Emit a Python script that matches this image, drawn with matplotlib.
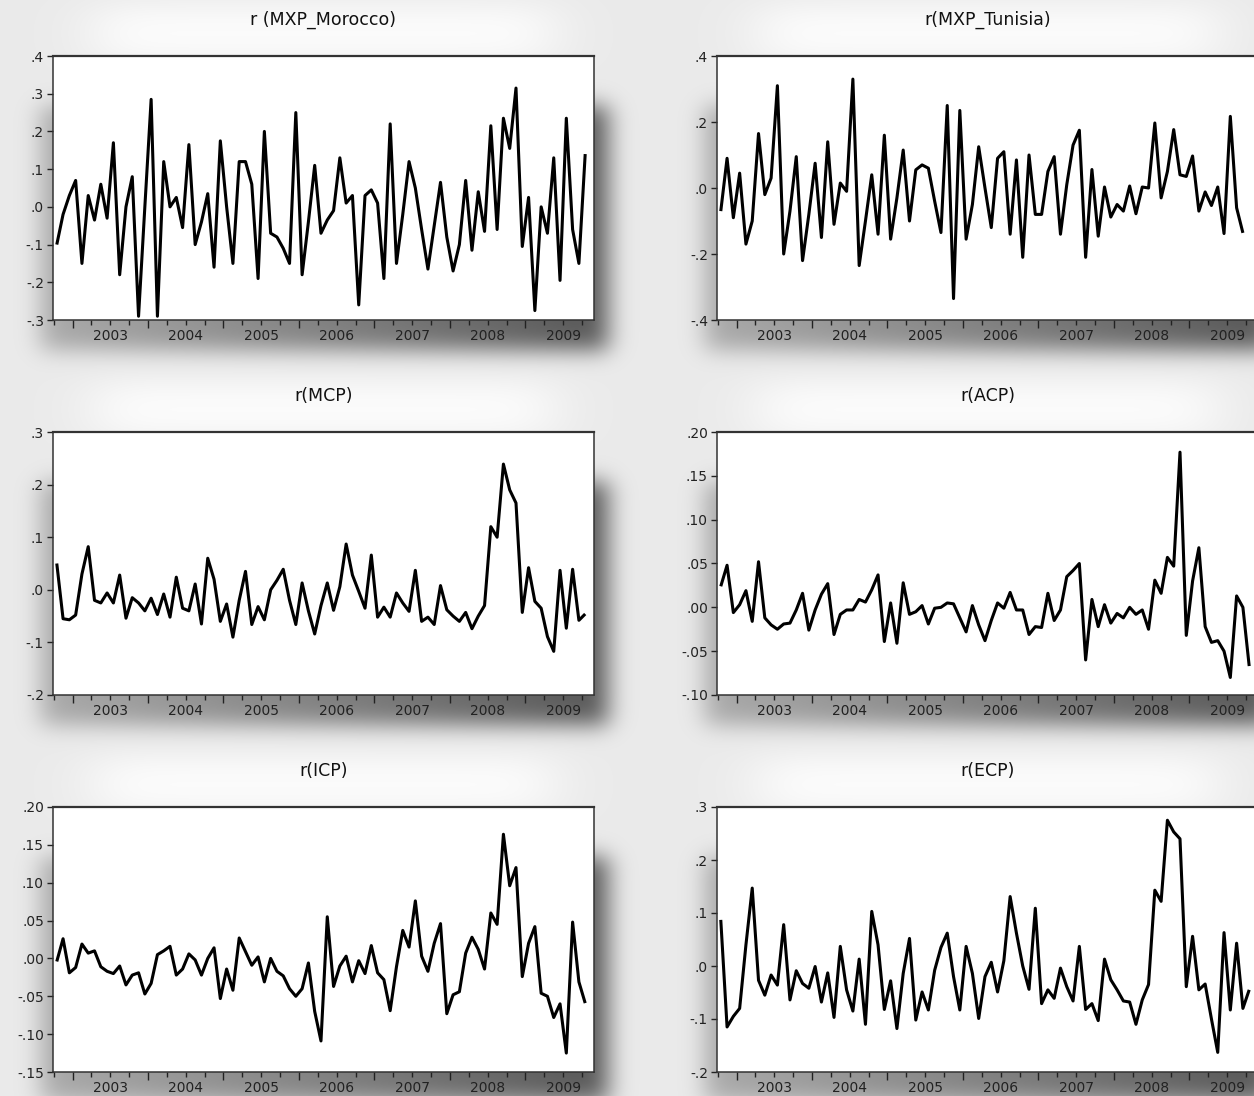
import math
import numpy as np
import matplotlib
matplotlib.use("Agg")
import matplotlib.pyplot as plt
from matplotlib.ticker import FixedLocator, FuncFormatter, NullFormatter

# ---------------- data (monthly, first obs 2002M10) ----------------
first_month = -3          # months relative to 2003M01
years = [2003, 2004, 2005, 2006, 2007, 2008, 2009]

mxp_morocco = [-0.10, -0.02, 0.03, 0.07, -0.15, 0.03, -0.035, 0.06, -0.03, 0.17,
               -0.18, 0.00, 0.08, -0.29, 0.00, 0.285, -0.29, 0.12, 0.00, 0.025,
               -0.055, 0.165, -0.10, -0.04, 0.035, -0.16, 0.175, 0.00, -0.15, 0.12,
               0.12, 0.06, -0.19, 0.20, -0.07, -0.08, -0.11, -0.15, 0.25, -0.18,
               -0.04, 0.11, -0.07, -0.035, -0.01, 0.13, 0.01, 0.03, -0.26, 0.03,
               0.045, 0.01, -0.19, 0.22, -0.15, -0.02, 0.12, 0.05, -0.06, -0.165,
               -0.05, 0.065, -0.08, -0.17, -0.10, 0.07, -0.115, 0.04, -0.065, 0.215,
               -0.06, 0.235, 0.155, 0.315, -0.105, 0.025, -0.275, 0.00, -0.07, 0.13,
               -0.195, 0.235, -0.06, -0.15, 0.14]

mxp_tunisia = [-0.07, 0.09, -0.09, 0.045, -0.17, -0.10, 0.165, -0.02, 0.03, 0.31,
               -0.20, -0.07, 0.095, -0.22, -0.08, 0.075, -0.15, 0.14, -0.11, 0.015,
               -0.01, 0.33, -0.235, -0.10, 0.04, -0.14, 0.16, -0.155, -0.03, 0.115,
               -0.10, 0.055, 0.07, 0.06, -0.04, -0.135, 0.25, -0.335, 0.235, -0.155,
               -0.05, 0.125, 0.00, -0.12, 0.09, 0.11, -0.14, 0.085, -0.21, 0.10,
               -0.08, -0.08, 0.05, 0.095, -0.14, 0.01, 0.13, 0.175, -0.21, 0.056,
               -0.146, 0.003, -0.088, -0.05, -0.07, 0.006, -0.078, 0.003, 0.00, 0.197,
               -0.03, 0.05, 0.177, 0.04, 0.035, 0.097, -0.07, -0.012, -0.053, 0.003,
               -0.138, 0.217, -0.06, -0.136]

mcp = [0.05, -0.055, -0.057, -0.048, 0.03, 0.082, -0.02, -0.025, -0.006, -0.025,
       0.028, -0.054, -0.015, -0.025, -0.04, -0.016, -0.047, -0.008, -0.052, 0.024,
       -0.035, -0.04, 0.011, -0.065, 0.06, 0.02, -0.06, -0.027, -0.09, -0.02,
       0.035, -0.066, -0.032, -0.057, 0.0, 0.018, 0.039, -0.02, -0.066, 0.013,
       -0.04, -0.084, -0.03, 0.013, -0.039, 0.006, 0.087, 0.028, -0.003, -0.035,
       0.066, -0.052, -0.033, -0.052, -0.006, -0.025, -0.041, 0.037, -0.06, -0.052,
       -0.066, 0.008, -0.038, -0.05, -0.06, -0.043, -0.074, -0.05, -0.03, 0.12,
       0.10, 0.239, 0.19, 0.165, -0.043, 0.042, -0.022, -0.035, -0.089, -0.117,
       0.037, -0.073, 0.039, -0.058, -0.046]

acp = [0.024, 0.048, -0.006, 0.003, 0.019, -0.016, 0.052, -0.012, -0.02, -0.025,
       -0.019, -0.018, -0.003, 0.016, -0.026, -0.003, 0.015, 0.027, -0.031, -0.008,
       -0.003, -0.003, 0.009, 0.006, 0.02, 0.037, -0.039, 0.005, -0.041, 0.028,
       -0.008, -0.005, 0.002, -0.019, -0.001, 0.0, 0.005, 0.004, -0.012, -0.028,
       0.002, -0.02, -0.038, -0.015, 0.005, -0.001, 0.017, -0.003, -0.003, -0.031,
       -0.022, -0.023, 0.016, -0.015, -0.003, 0.035, 0.042, 0.05, -0.06, 0.009,
       -0.022, 0.003, -0.018, -0.007, -0.012, 0.0, -0.008, -0.003, -0.025, 0.031,
       0.016, 0.057, 0.047, 0.177, -0.032, 0.03, 0.068, -0.022, -0.04, -0.038,
       -0.05, -0.08, 0.013, 0.0, -0.067]

icp = [-0.004, 0.026, -0.019, -0.012, 0.019, 0.007, 0.01, -0.011, -0.017, -0.02,
       -0.01, -0.035, -0.022, -0.019, -0.047, -0.033, 0.005, 0.01, 0.016, -0.022,
       -0.014, 0.006, -0.002, -0.022, 0.0, 0.014, -0.053, -0.014, -0.042, 0.027,
       0.009, -0.009, 0.002, -0.031, 0.0, -0.017, -0.023, -0.04, -0.05, -0.04,
       -0.006, -0.07, -0.109, 0.055, -0.037, -0.01, 0.003, -0.031, -0.003, -0.02,
       0.017, -0.019, -0.028, -0.069, -0.011, 0.037, 0.015, 0.076, 0.003, -0.017,
       0.02, 0.046, -0.073, -0.048, -0.044, 0.007, 0.028, 0.012, -0.014, 0.06,
       0.045, 0.164, 0.096, 0.12, -0.024, 0.02, 0.042, -0.046, -0.05, -0.078,
       -0.06, -0.125, 0.048, -0.031, -0.059]

ecp = [0.087, -0.115, -0.095, -0.08, 0.04, 0.147, -0.027, -0.055, -0.017, -0.036,
       0.078, -0.064, -0.009, -0.033, -0.042, -0.001, -0.068, -0.013, -0.097, 0.037,
       -0.045, -0.085, 0.013, -0.11, 0.103, 0.04, -0.082, -0.028, -0.118, -0.014,
       0.052, -0.102, -0.049, -0.083, -0.008, 0.035, 0.062, -0.02, -0.083, 0.037,
       -0.014, -0.099, -0.02, 0.007, -0.049, 0.01, 0.131, 0.062, 0.0, -0.044,
       0.109, -0.071, -0.045, -0.061, -0.004, -0.039, -0.066, 0.037, -0.082, -0.071,
       -0.103, 0.013, -0.026, -0.045, -0.066, -0.068, -0.11, -0.064, -0.035, 0.143,
       0.122, 0.275, 0.253, 0.24, -0.039, 0.056, -0.045, -0.034, -0.10, -0.163,
       0.063, -0.083, 0.043, -0.08, -0.045]

titles = ["r (MXP_Morocco)", "r(MXP_Tunisia)", "r(MCP)", "r(ACP)", "r(ICP)", "r(ECP)"]
series = [mxp_morocco, mxp_tunisia, mcp, acp, icp, ecp]
ylims = [(-0.3, 0.4), (-0.4, 0.4), (-0.2, 0.3), (-0.10, 0.20), (-0.15, 0.20), (-0.2, 0.3)]
ysteps = [0.1, 0.2, 0.1, 0.05, 0.05, 0.1]
ydec = [1, 1, 1, 2, 2, 1]

# ---------------- layout (pixels) ----------------
W, H = 1254, 1096
cols = [(53, 594), (717, 1258)]
rows = [(56, 320), (432, 695), (807, 1072)]

fig = plt.figure(figsize=(W / 100, H / 100), dpi=100)
fig.patch.set_facecolor("#ececec")

# ---------------- background with soft shadows ----------------
verf = np.vectorize(math.erf)
xs = np.arange(W) + 0.5
ys = np.arange(H) + 0.5


def soft_box(c, a, b, s):
    return 0.5 * (verf((c - a) / (s * math.sqrt(2))) - verf((c - b) / (s * math.sqrt(2))))


img = np.full((H, W), 0.92)
for (y0, y1) in rows:
    for (x0, x1) in cols:
        gx = soft_box(xs, x0 + 40, x1 - 40, 30)
        gy = soft_box(ys, y0 - 50, y0 + 5, 14)
        img += (1.0 - img) * 0.85 * np.outer(gy, gx)
for (y0, y1) in rows:
    for (x0, x1) in cols:
        ramp = np.clip(0.45 + 0.55 * (xs - x0) / (x1 - x0), 0.45, 1.0)
        sx = soft_box(xs, x0 - 12, x1 + 14, 12) * ramp
        sy = soft_box(ys, y0 + 50, y1 + 30, 11)
        img *= 1.0 - 0.62 * np.outer(sy, sx)
rgb = np.dstack([img, img, img])
fig.figimage(rgb, xo=0, yo=0, origin="upper", zorder=-10)


def make_fmt(d):
    def f(v, pos=None):
        v = round(v, 6) + 0.0
        s = f"{v:.{d}f}"
        return s.replace("0.", ".", 1)
    return f


year_ticks = [(y - 2003) * 12 for y in years]
quarter_ticks = [m for m in range(-3, 84, 3) if m % 12 != 0]

for k, (title, vals) in enumerate(zip(titles, series)):
    r, c = divmod(k, 2)
    (x0, x1), (y0, y1) = cols[c], rows[r]
    ax = fig.add_axes([x0 / W, 1 - y1 / H, (x1 - x0) / W, (y1 - y0) / H])
    ax.set_facecolor("white")
    t = np.arange(len(vals)) + first_month + 0.5
    ax.plot(t, vals, color="black", lw=2.2, solid_joinstyle="round",
            solid_capstyle="butt")
    ax.set_xlim(-3.1, 82.9)
    lo, hi = ylims[k]
    ax.set_ylim(lo, hi)
    yt = np.round(np.arange(lo, hi + ysteps[k] / 2, ysteps[k]), 6)
    ax.yaxis.set_major_locator(FixedLocator(yt))
    ax.yaxis.set_major_formatter(FuncFormatter(make_fmt(ydec[k])))

    ax.xaxis.set_major_locator(FixedLocator(year_ticks))
    ax.xaxis.set_major_formatter(NullFormatter())
    ax.xaxis.set_minor_locator(FixedLocator(quarter_ticks))
    ax.xaxis.set_minor_formatter(FuncFormatter(
        lambda v, pos: str(2003 + int(round(v)) // 12) if int(round(v)) % 12 == 6 else ""))

    ax.tick_params(axis="x", which="major", direction="out", length=6, width=1.0,
                   color="#222222")
    ax.tick_params(axis="x", which="minor", direction="out", length=3.5, width=1.0,
                   color="#222222", labelsize=10, labelcolor="#222222", pad=3)
    ax.tick_params(axis="y", which="major", direction="out", length=4.5, width=1.0,
                   color="#222222", labelsize=10, labelcolor="#222222", pad=2)
    for side in ["top", "bottom", "left", "right"]:
        ax.spines[side].set_color("#333333")
        ax.spines[side].set_linewidth(1.1)
    ax.spines["top"].set_linewidth(1.6)

    ax.text(0.5, 1 + 36 / (y1 - y0), title, transform=ax.transAxes,
            ha="center", va="center", fontsize=12.5, color="#111111",
            family="DejaVu Sans")

fig.savefig("out.png", dpi=100)
